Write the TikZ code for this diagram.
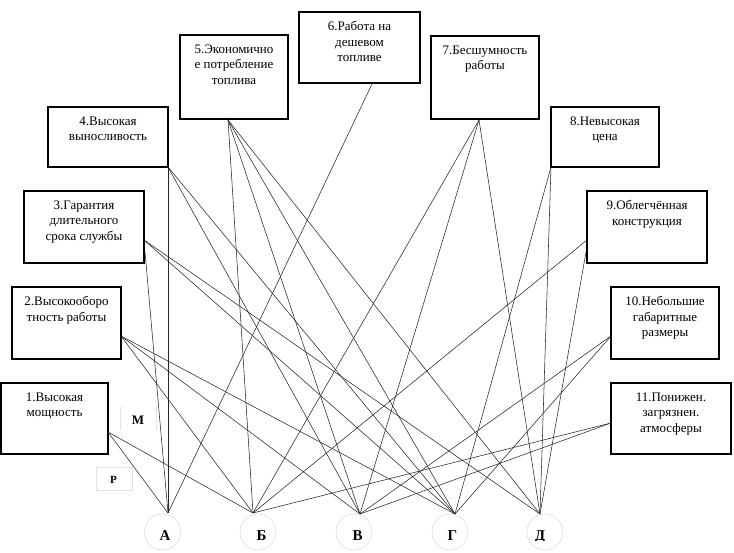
\documentclass[tikz,border=0pt]{standalone}
\usepackage{fontspec}
\setmainfont{Liberation Serif}
\begin{document}
\begin{tikzpicture}[x=1pt,y=-1pt,
  box/.style={draw=black, line width=1.1pt, inner sep=0pt, fill=none},
  txt/.style={anchor=north, inner sep=0pt, align=center, font={\fontsize{13}{15.5}\selectfont}},
  conn/.style={draw=black!85, line width=0.55pt},
  circ/.style={circle, draw=black!14, line width=0.6pt, minimum size=36pt, inner sep=0pt},
  letter/.style={anchor=base, inner sep=0pt, font={\fontsize{15}{15}\selectfont\bfseries}},
  faint/.style={draw=black!12, line width=0.6pt}]
\useasboundingbox (0,0) rectangle (734,552);
% boxes
\node[box, minimum width=107pt, minimum height=71pt] (n1) at (54.5,418.5) {};
\node[box, minimum width=109pt, minimum height=72pt] (n2) at (66.5,323) {};
\node[box, minimum width=120pt, minimum height=72pt] (n3) at (84,227) {};
\node[box, minimum width=120pt, minimum height=60pt] (n4) at (108,137) {};
\node[box, minimum width=108pt, minimum height=84pt] (n5) at (234,77) {};
\node[box, minimum width=121pt, minimum height=71pt] (n6) at (359.5,47.5) {};
\node[box, minimum width=108pt, minimum height=83pt] (n7) at (485,77.5) {};
\node[box, minimum width=108pt, minimum height=60pt] (n8) at (605,137) {};
\node[box, minimum width=120pt, minimum height=72pt] (n9) at (647,227) {};
\node[box, minimum width=108pt, minimum height=72pt] (n10) at (665,323) {};
\node[box, minimum width=120pt, minimum height=71pt] (n11) at (671,418.5) {};
% texts
\node[txt] (t1) at ([yshift=-10pt]n1.north) {1.Высокая\\мощность};
\node[txt] (t2) at ([yshift=-10pt]n2.north) {2.Высокооборо\\тность работы};
\node[txt] (t3) at ([yshift=-10pt]n3.north) {3.Гарантия\\длительного\\срока службы};
\node[txt] (t4) at ([yshift=-10pt]n4.north) {4.Высокая\\выносливость};
\node[txt] (t5) at ([yshift=-10pt]n5.north) {5.Экономично\\е потребление\\топлива};
\node[txt] (t6) at ([yshift=-10pt]n6.north) {6.Работа на\\дешевом\\топливе};
\node[txt] (t7) at ([yshift=-10pt]n7.north) {7.Бесшумность\\работы};
\node[txt] (t8) at ([yshift=-10pt]n8.north) {8.Невысокая\\цена};
\node[txt] (t9) at ([yshift=-10pt]n9.north) {9.Облегчённая\\конструкция};
\node[txt] (t10) at ([yshift=-10pt]n10.north) {10.Небольшие\\габаритные\\размеры};
\node[txt] (t11) at ([yshift=-10pt]n11.north) {11.Понижен.\\загрязнен.\\атмосферы};
% circles
\node[circ] (A) at (162.5,532) {};
\node[circ] (B) at (258,532) {};
\node[circ] (V) at (354,532) {};
\node[circ] (G) at (450,532) {};
\node[circ] (D) at (545,532) {};
% ports
\coordinate (p1) at (108,432);
\coordinate (p2) at (121,336);
\coordinate (p3) at (144,240);
\coordinate (p3b) at (145,252);
\coordinate (p4) at (168,167);
\coordinate (p5) at (228,120);
\coordinate (p6) at (372,84);
\coordinate (p7) at (479,120);
\coordinate (p8) at (551,167);
\coordinate (p9) at (587,240);
\coordinate (p9b) at (586,252);
\coordinate (p10) at (611,336);
\coordinate (p11) at (611,423);
\coordinate (tA) at (168,513);
\coordinate (tB) at (253,513);
\coordinate (tV) at (360,514);
\coordinate (tG) at (455,514);
\coordinate (tD) at (540,514);
% connectors
\draw[conn] (p1) -- (tA);
\draw[conn] (p1) -- (tB);
\draw[conn] (p2) -- (tB);
\draw[conn] (p2) -- (tV);
\draw[conn] (p2) -- (tG);
\draw[conn] (p3b) -- (tA);
\draw[conn] (p3) -- (tG);
\draw[conn] (p3) -- (tD);
\draw[conn] (p4) -- (tA);
\draw[conn] (p4) -- (tV);
\draw[conn] (p4) -- (tG);
\draw[conn] (p5) -- (tB);
\draw[conn] (p5) -- (tV);
\draw[conn] (p5) -- (tG);
\draw[conn] (p5) -- (tD);
\draw[conn] (p6) -- (tA);
\draw[conn] (p7) -- (tB);
\draw[conn] (p7) -- (tV);
\draw[conn] (p7) -- (tD);
\draw[conn] (p8) -- (tG);
\draw[conn] (p8) -- (tD);
\draw[conn] (p9) -- (tB);
\draw[conn] (p9b) -- (tD);
\draw[conn] (p10) -- (tV);
\draw[conn] (p10) -- (tG);
\draw[conn] (p11) -- (tB);
\draw[conn] (p11) -- (tV);
% M and P labels
\coordinate (m1) at (120.5,407);
\coordinate (m2) at (120.5,430);
\coordinate (m3) at (156,407);
\coordinate (m4) at (156,430);
\draw[faint] (m1) -- (m2);
\draw[faint] (m3) -- (m4);
\node[anchor=base, inner sep=0pt, font={\fontsize{13}{13}\selectfont\bfseries}] (M) at (138,424) {М};
\node[faint, draw, minimum width=35.5pt, minimum height=23pt, inner sep=0pt] (Pbox) at (114.5,478.5) {};
\node[anchor=base, inner sep=0pt, font={\fontsize{11}{11}\selectfont\bfseries}] (P) at (113.5,483.3) {Р};
% letters
\begin{scope}
\clip (0,0) rectangle (734,540.5);
\node[letter] (lA) at (165,540) {А};
\node[letter] (lB) at (261.5,540) {Б};
\node[letter] (lV) at (357.5,540) {В};
\node[letter] (lG) at (452.5,540) {Г};
\node[letter] (lD) at (540,540) {Д};
\end{scope}
\end{tikzpicture}
\end{document}
